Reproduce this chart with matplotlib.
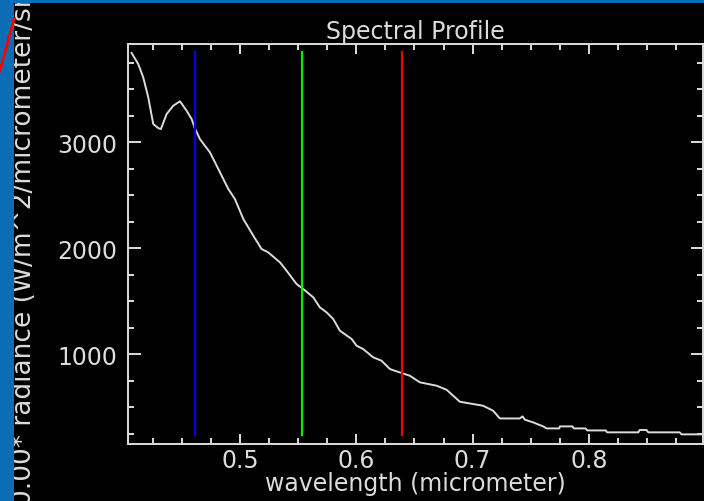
import matplotlib
matplotlib.use('Agg')
import matplotlib.pyplot as plt
from matplotlib.patches import Rectangle
from matplotlib.lines import Line2D
from matplotlib.ticker import MultipleLocator

# --- data ---
wavelength = [0.4069, 0.4126, 0.4169, 0.4212, 0.4255, 0.4300, 0.4321, 0.4370,
              0.4427, 0.4485, 0.4542, 0.4585, 0.4613, 0.4656, 0.4742, 0.4800,
              0.4900, 0.4957, 0.5029, 0.5115, 0.5186, 0.5243, 0.5344, 0.5401,
              0.5487, 0.5544, 0.5630, 0.5687, 0.5745, 0.5802, 0.5859, 0.5960,
              0.6003, 0.6059, 0.6145, 0.6217, 0.6289, 0.6389, 0.6460, 0.6546,
              0.6690, 0.6776, 0.6890, 0.7004, 0.7090, 0.7176, 0.7234, 0.7405,
              0.7429, 0.7450, 0.7520, 0.7606, 0.7635, 0.7744, 0.7750, 0.7858,
              0.7870, 0.7970, 0.7985, 0.8144, 0.8156, 0.8424, 0.8436, 0.8494,
              0.8510, 0.8780, 0.8795, 0.8980]
radiance = [3840, 3736, 3610, 3422, 3170, 3130, 3123, 3264,
            3343, 3384, 3295, 3217, 3130, 3028, 2903, 2777,
            2557, 2462, 2274, 2116, 1991, 1959, 1865, 1786,
            1660, 1613, 1535, 1440, 1393, 1330, 1220, 1142,
            1078, 1047, 969, 937, 858, 821, 795, 733,
            701, 663, 550, 528, 512, 465, 392, 392,
            411, 380, 355, 317, 298, 298, 317, 317,
            298, 298, 279, 279, 261, 261, 283, 283,
            261, 261, 242, 242]

band_wavelength = [0.461, 0.553, 0.639]
band_colors = ['#0000e6', '#00ee00', '#ee0000']

fg = '#dcdcdc'

fig = plt.figure(figsize=(7.04, 5.02), dpi=100)
fig.patch.set_facecolor('black')

ax = fig.add_axes([128/704, 1 - 445/502, (703 - 128)/704, (445 - 45)/502])
ax.set_facecolor('black')

ax.plot(wavelength, radiance, color=fg, linewidth=1.4)
for w, c in zip(band_wavelength, band_colors):
    ax.axvline(w, ymin=0.022, ymax=0.98, color=c, linewidth=1.6)

ax.set_xlim(0.4038, 0.898)
ax.set_ylim(151, 3925)

ax.xaxis.set_major_locator(MultipleLocator(0.1))
ax.xaxis.set_minor_locator(MultipleLocator(0.025))
ax.yaxis.set_major_locator(MultipleLocator(1000))
ax.yaxis.set_minor_locator(MultipleLocator(250))
ax.xaxis.set_major_formatter(plt.FuncFormatter(lambda v, p: f'{v:.1f}'))
ax.yaxis.set_major_formatter(plt.FuncFormatter(lambda v, p: f'{v:.0f}'))

ax.tick_params(which='both', direction='in', top=True, right=True,
               colors=fg, labelcolor=fg, width=1.4, labelsize=17)
ax.tick_params(axis='x', which='major', length=7, pad=3)
ax.tick_params(axis='y', which='major', length=9, pad=8)
ax.tick_params(which='minor', length=4)
for s in ax.spines.values():
    s.set_color(fg)
    s.set_linewidth(1.4)

ax.set_title('Spectral Profile', color=fg, fontsize=17, pad=4)
ax.set_xlabel('wavelength (micrometer)', color=fg, fontsize=17, labelpad=-1)

# y label, clipped by the picture edges in the reference
fig.text(24/704, -4/502, '0.00* radiance (W/m^2/micrometer/sr)', rotation=90,
         ha='center', va='bottom', color=fg, fontsize=19)

# blue window frame at the top and left
blue = '#0b6db5'
fig.patches.append(Rectangle((0, 1 - 4/502), 1, 4/502, transform=fig.transFigure,
                             facecolor=blue, edgecolor='none', zorder=10))
fig.patches.append(Rectangle((0, 0), 14/704, 1, transform=fig.transFigure,
                             facecolor=blue, edgecolor='none', zorder=10))
fig.lines.append(Line2D([0, 14/704], [1 - 72/502, 1 - 20/502], transform=fig.transFigure,
                        color='#ff0000', linewidth=2, zorder=11))

fig.savefig('out.png', dpi=100, facecolor=fig.get_facecolor())
